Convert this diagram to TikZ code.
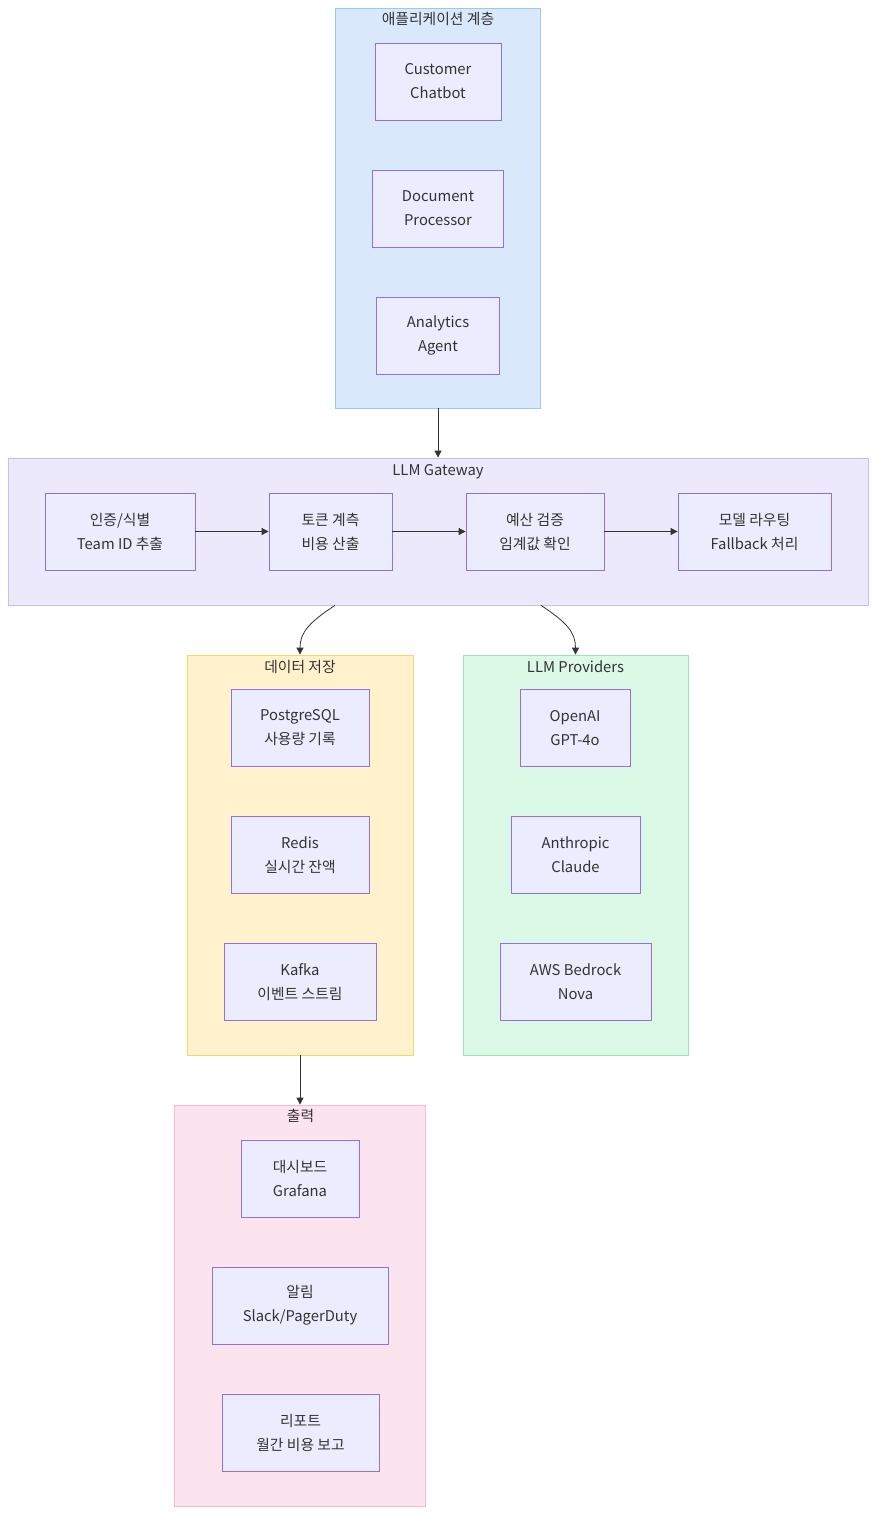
\documentclass[tikz,border=0pt]{standalone}
\usepackage{fontspec}
\setmainfont{Noto Sans CJK KR}
\usetikzlibrary{arrows.meta}
\definecolor{txt}{HTML}{333333}
\definecolor{nodefill}{HTML}{ECECFF}
\definecolor{nodeline}{HTML}{9370DB}
\definecolor{appfill}{HTML}{DAE8FC}
\definecolor{appline}{HTML}{9CC8F5}
\definecolor{gwfill}{HTML}{ECE9FC}
\definecolor{gwline}{HTML}{C9BEF2}
\definecolor{dsfill}{HTML}{FFF2CC}
\definecolor{dsline}{HTML}{F5D66E}
\definecolor{prfill}{HTML}{DCF8E7}
\definecolor{prline}{HTML}{9DE3B5}
\definecolor{outfill}{HTML}{FCE4EF}
\definecolor{outline}{HTML}{F5B8D2}
\definecolor{edge}{HTML}{333333}
\tikzset{
  box/.style={draw=nodeline, fill=nodefill, line width=0.8pt, text=txt, align=center,
    inner sep=0pt, font=\fontsize{14.8}{24}\selectfont, minimum height=77pt},
  cluster/.style={line width=0.8pt, inner sep=0pt},
  ctitle/.style={text=txt, font=\fontsize{14.8}{16}\selectfont, anchor=base, inner sep=0pt},
  conn/.style={draw=edge, line width=0.8pt, -{Triangle[length=7pt,width=7pt]}}
}
\begin{document}
\begin{tikzpicture}[x=1pt,y=-1pt]
\useasboundingbox (0,0) rectangle (884,1526);
\fill[white] (0,0) rectangle (884,1526);
% clusters
\node[cluster, draw=appline, fill=appfill, minimum width=205pt, minimum height=400pt] (app) at (438,208) {};
\node[ctitle] at (438,24) {애플리케이션 계층};
\node[cluster, draw=gwline, fill=gwfill, minimum width=860pt, minimum height=147pt] (gw) at (438,531.5) {};
\node[ctitle] at (438,475) {LLM Gateway};
\node[cluster, draw=dsline, fill=dsfill, minimum width=226pt, minimum height=400pt] (ds) at (300,855) {};
\node[ctitle] at (300,672) {데이터 저장};
\node[cluster, draw=prline, fill=prfill, minimum width=225pt, minimum height=400pt] (pr) at (575.5,855) {};
\node[ctitle] at (575.5,672) {LLM Providers};
\node[cluster, draw=outline, fill=outfill, minimum width=251pt, minimum height=401pt] (out) at (300,1305.5) {};
\node[ctitle] at (300.5,1121) {출력};
% app nodes
\node[box, minimum width=126pt] (cc) at (438,81.5) {Customer\\Chatbot};
\node[box, minimum width=131pt] (dp) at (438,208.5) {Document\\Processor};
\node[box, minimum width=123pt] (aa) at (438,335.5) {Analytics\\Agent};
% gateway nodes
\node[box, minimum width=150pt] (g1) at (120,531.5) {인증/식별\\Team ID 추출};
\node[box, minimum width=123pt] (g2) at (330.5,531.5) {토큰 계측\\비용 산출};
\node[box, minimum width=138pt] (g3) at (535,531.5) {예산 검증\\임계값 확인};
\node[box, minimum width=153pt] (g4) at (754.5,531.5) {모델 라우팅\\Fallback 처리};
% storage nodes
\node[box, minimum width=138pt] (pg) at (300,728) {PostgreSQL\\사용량 기록};
\node[box, minimum width=138pt] (rd) at (300,855) {Redis\\실시간 잔액};
\node[box, minimum width=152pt] (kf) at (300,982) {Kafka\\이벤트 스트림};
% providers
\node[box, minimum width=110pt] (oa) at (575,728) {OpenAI\\GPT-4o};
\node[box, minimum width=129pt] (an) at (575.5,855) {Anthropic\\Claude};
\node[box, minimum width=151pt] (bd) at (575.5,982) {AWS Bedrock\\Nova};
% output
\node[box, minimum width=118pt] (gf) at (300,1178.5) {대시보드\\Grafana};
\node[box, minimum width=176pt] (al) at (300,1305.5) {알림\\Slack/PagerDuty};
\node[box, minimum width=157pt] (rp) at (300.5,1432.5) {리포트\\월간 비용 보고};
% edges
\draw[conn] (app.south) -- (gw.north);
\draw[conn] (g1.east) -- (g2.west);
\draw[conn] (g2.east) -- (g3.west);
\draw[conn] (g3.east) -- (g4.west);
\draw[conn] ([xshift=-103pt]gw.south) .. controls +(-26,17) and +(0,-22) .. (ds.north);
\draw[conn] ([xshift=103pt]gw.south) .. controls +(26,17) and +(0,-22) .. (pr.north);
\draw[conn] (ds.south) -- (out.north);
\end{tikzpicture}
\end{document}
